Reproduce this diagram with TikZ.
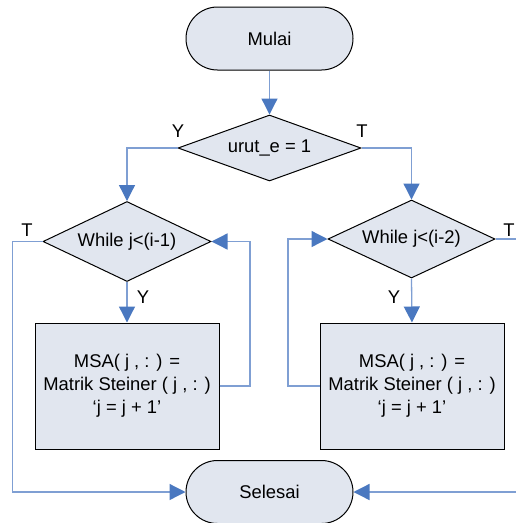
\documentclass[tikz,border=0pt]{standalone}
\usepackage{fontspec}
\setmainfont{Liberation Sans}
\usetikzlibrary{shapes.geometric,shapes.misc,arrows.meta}
\definecolor{flowline}{HTML}{7F9FD3}
\definecolor{flowtip}{HTML}{4A78C0}
\definecolor{shapefill}{HTML}{E1E6EF}

\begin{document}
\begin{tikzpicture}[x=1pt,y=-1pt,
  every node/.style={font=\fontsize{18.4}{23}\selectfont},
  terminal/.style={rounded rectangle, draw=black, line width=1pt, fill=shapefill,
    minimum width=167pt, minimum height=63pt, inner sep=0pt},
  decision/.style={diamond, draw=black, line width=1pt, fill=shapefill,
    inner sep=0pt, aspect=2.1},
  process/.style={rectangle, draw=black, line width=1pt, fill=shapefill,
    minimum width=184pt, minimum height=126pt, inner sep=0pt, align=center},
  link/.style={draw=flowline, line width=1.3pt},
  flow/.style={link, -{Triangle[length=16pt,width=16pt,color=flowtip]}},
  lbl/.style={inner sep=0pt}
]
\useasboundingbox (0,0) rectangle (516,523);
\fill[white] (0,0) rectangle (516,523);
\clip (0,0) rectangle (516,523);

% shapes
\node[terminal] (mulai) at (269.5,38.5) {Mulai};
\node[decision, minimum width=183pt, minimum height=66pt] (cond) at (269.5,148) {urut\_e = 1};
\node[decision, minimum width=168pt, minimum height=80pt] (w1) at (127,241.5) {While j<(i-1)};
\node[decision, minimum width=167pt, minimum height=78pt] (w2) at (411.5,239) {While j<(i-2)};
\node[process] (b1) at (127,386) {MSA( j , : ) =\\Matrik Steiner ( j , : )\\‘j = j + 1’};
\node[process] (b2) at (412,386) {MSA( j , : ) =\\Matrik Steiner ( j , : )\\‘j = j + 1’};
\node[terminal] (sel) at (269.5,492) {Selesai};

% turning points of the connectors
\coordinate (loopL) at (250,386);
\coordinate (exitL) at (12.5,241.5);
\coordinate (loopR) at (288,386);
\coordinate (exitR) at (522,239);

% connectors
\draw[flow] (mulai.south) -- (cond.north);
\draw[flow] (cond.west) -| (w1.north);
\draw[flow] (cond.east) -| (w2.north);
\draw[flow] (w1.south) -- (b1.north);
\draw[flow] (w2.south) -- (b2.north);
\draw[flow] (b1.east) -- (loopL) |- (w1.east);
\draw[flow] (b2.west) -- (loopR) |- (w2.west);
\draw[flow] (w1.west) -- (exitL) |- (sel.west);
\draw[flow] (w2.east) -- (exitR) |- (sel.east);

% branch labels
\node[lbl] (yc) at (178,131) {Y};
\node[lbl] (tc) at (362,131) {T};
\node[lbl] (t1) at (27,230) {T};
\node[lbl] (y1) at (143,297) {Y};
\node[lbl] (y2) at (394,297) {Y};
\node[lbl] (t2) at (509,230) {T};
\end{tikzpicture}
\end{document}
